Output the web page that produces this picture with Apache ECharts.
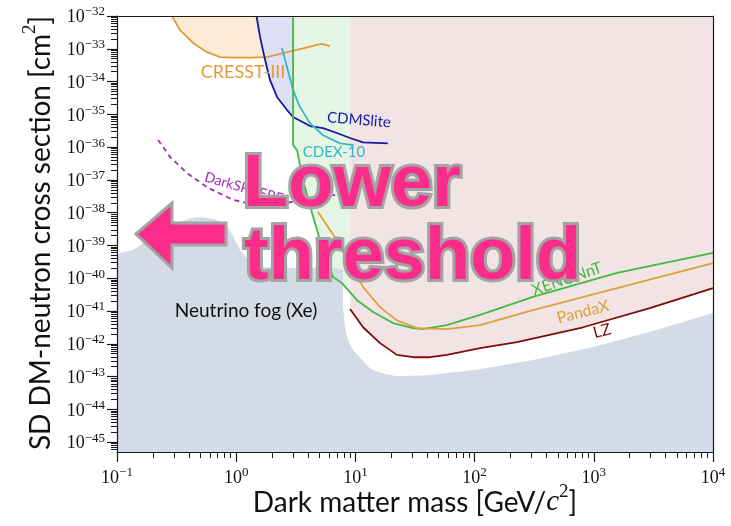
<!DOCTYPE html>
<html>
<head>
<meta charset="utf-8">
<script src="https://cdn.jsdelivr.net/npm/echarts@6/dist/echarts.min.js"></script>
<style>
  html, body { margin: 0; padding: 0; background: #ffffff; }
  #chart { width: 731px; height: 526px; }
</style>
</head>
<body>
<div id="chart"></div>
<script>
// Dark matter mass in GeV/c^2, spin-dependent DM-neutron cross section in cm^2.

// Tick exponents (decades) on both axes
const xDecades = [-1, 0, 1, 2, 3, 4];
const yDecades = [-45, -44, -43, -42, -41, -40, -39, -38, -37, -36, -35, -34, -33, -32];

// Neutrino fog (Xe) upper boundary
const fogMass  = [0.1, 0.106, 0.136, 0.295, 0.469, 0.638, 0.82, 0.94, 1.08, 1.31, 1.75, 3.43, 6.12, 7.87, 7.87, 8.18, 8.67, 9.55, 11.4, 13.2, 16.1, 22.3, 39.8, 101, 309, 977, 3140, 10000];
const fogSigma = [4.5e-40, 5.9e-40, 7.2e-40, 4.8e-39, 7.4e-39, 6.5e-39, 4.5e-39, 1.95e-39, 7.2e-40, 3.1e-40, 2.2e-40, 2.0e-40, 2.3e-40, 1.78e-40, 1.32e-41, 3.2e-42, 1.3e-42, 6.4e-43, 3.2e-43, 1.8e-43, 1.3e-43, 1.03e-43, 1.1e-43, 1.6e-43, 3.2e-43, 7.9e-43, 2.45e-42, 8.7e-42];

// CRESST-III
const cresstMass  = [0.289, 0.338, 0.386, 0.435, 0.569, 0.731, 0.94, 1.31, 1.81, 2.47, 3.43, 4.76, 5.25, 6.12];
const cresstSigma = [1e-32, 3.7e-33, 2.3e-33, 1.5e-33, 7.9e-34, 5.6e-34, 5.4e-34, 5.4e-34, 5.6e-34, 7.4e-34, 9.8e-34, 1.32e-33, 1.41e-33, 1.2e-33];

// CDMSlite
const cdmsMass  = [1.48, 1.585, 1.746, 1.92, 2.2, 2.67, 3.0, 4.16, 5.35, 7.0, 9.0, 11.6, 18.7];
const cdmsSigma = [1e-32, 2.3e-33, 4.6e-34, 1.12e-34, 3.4e-35, 1.35e-35, 8.3e-36, 4.4e-36, 3.8e-36, 2.7e-36, 1.9e-36, 1.4e-36, 1.3e-36];

// CDEX-10
const cdexMass  = [2.42, 2.67, 3.0, 3.43, 4.16, 5.35, 7.43, 9.7];
const cdexSigma = [1.05e-33, 2.75e-34, 5.5e-35, 1.66e-35, 5.4e-36, 2.3e-36, 1.3e-36, 1.15e-36];

// DarkSPHERE (projected)
const dsMass  = [0.221, 0.279, 0.386, 0.569, 0.94, 1.38, 2.47, 5.05, 6.75];
const dsSigma = [1.66e-36, 5.0e-37, 1.62e-37, 6.0e-38, 2.45e-38, 1.82e-38, 1.95e-38, 2.8e-38, 3.5e-38];

// XENONnT
const xenonMass  = [3.0, 3.0, 3.24, 3.63, 4.33, 5.25, 6.49, 7.73, 10.3, 14.1, 20.7, 30.4, 36.9, 58.6, 111, 309, 1567, 10000];
const xenonSigma = [1e-32, 1.15e-36, 8.1e-37, 1.0e-37, 9.8e-39, 8.9e-40, 1.1e-40, 7.1e-41, 2.14e-41, 9.3e-42, 4.3e-42, 3.0e-42, 2.8e-42, 3.7e-42, 7.6e-42, 2.7e-41, 1.45e-40, 5.9e-40];

// PandaX
const pandaMass  = [4.85, 7.0, 8.5, 11.6, 16.1, 22.3, 32.9, 58.6, 111, 309, 1567, 10000];
const pandaSigma = [1.05e-38, 1.45e-39, 3.5e-40, 5.4e-41, 1.32e-41, 5.2e-42, 3.0e-42, 2.8e-42, 3.7e-42, 1.07e-41, 5.0e-41, 2.9e-40];

// LZ
const lzMass  = [9.02, 11.6, 16.1, 22.3, 30.4, 42.3, 58.6, 111, 227, 813, 2950, 10000];
const lzSigma = [1.15e-41, 3.2e-42, 1.05e-42, 4.6e-43, 3.9e-43, 3.9e-43, 4.6e-43, 7.4e-43, 1.12e-42, 3.2e-42, 1.23e-41, 5.0e-41];

// Plot in decades: both axes carry log10 of the physical value
const toLog = (m, s) => m.map((v, i) => [Math.log10(v), Math.log10(s[i])]);

const Y_MIN = -45.3, Y_MAX = -32;
const minorX = [];
for (let n = -1; n < 4; n++) for (let k = 2; k <= 9; k++) minorX.push(n + Math.log10(k));
const minorY = [];
for (let n = -46; n < -32; n++) for (let k = 2; k <= 9; k++) {
  const v = n + Math.log10(k);
  if (v > Y_MIN && v < Y_MAX) minorY.push(v);
}

const SERIF = '"Liberation Serif", "DejaVu Serif", serif';
const SANS = 'Lato, "DejaVu Sans", sans-serif';
const INK = '#111111';
const PINK = '#fc2c8b';
const OUTLINE = '#a3a3a3';

const sup = v => (v < 0 ? '\u2212' + Math.abs(Math.round(v)) : String(Math.round(v)));
const powRich = {
  b: { fontFamily: SERIF, fontSize: 18, lineHeight: 21, verticalAlign: 'bottom', color: INK },
  s: { fontFamily: SERIF, fontSize: 13, lineHeight: 13, verticalAlign: 'top', color: INK }
};
const powLabel = v => '{b|10}{s|' + sup(v) + '}';

const axisLine = { show: true, onZero: false, lineStyle: { color: '#1a1a1a', width: 1.2 } };
const noLine = { show: false, onZero: false };

function fill(data, color, origin, z) {
  return {
    type: 'line', data, symbol: 'none', silent: true, z,
    lineStyle: { opacity: 0 },
    areaStyle: { color, opacity: 1, origin }
  };
}
function curve(data, color, z, dashed) {
  return {
    type: 'line', data, symbol: 'none', silent: true, z,
    lineStyle: { color, width: 1.8, type: dashed ? [5, 4] : 'solid' }
  };
}
function tag(text, x, y, color, size, rotation) {
  return {
    type: 'text', x, y, z: 50, rotation: rotation || 0,
    style: { text, fill: color, font: size + 'px ' + SANS, align: 'center', verticalAlign: 'middle' }
  };
}

const chart = echarts.init(document.getElementById('chart'), null, { renderer: 'canvas' });

chart.setOption({
  animation: false,
  backgroundColor: '#ffffff',
  grid: { left: 117, right: 18, top: 16, bottom: 74, outerBoundsMode: 'none', containLabel: false },
  xAxis: [
    {
      type: 'value', min: -1, max: 4, interval: 1, position: 'bottom', z: 20,
      axisLine, splitLine: { show: false },
      axisTick: { show: true, length: 10, lineStyle: { color: '#1a1a1a', width: 1.2 } },
      axisLabel: { margin: 14, formatter: powLabel, rich: powRich, showMinLabel: true, showMaxLabel: true, hideOverlap: false }
    },
    {
      type: 'value', min: -1, max: 4, position: 'bottom', z: 20,
      axisLine: noLine, splitLine: { show: false }, axisLabel: { show: false },
      axisTick: { show: true, length: 6, customValues: minorX, lineStyle: { color: '#1a1a1a', width: 1 } }
    },
    {
      type: 'value', min: -1, max: 4, position: 'top', z: 20,
      axisLine, splitLine: { show: false }, axisLabel: { show: false }, axisTick: { show: false }
    }
  ],
  yAxis: [
    {
      type: 'value', min: Y_MIN, max: Y_MAX, position: 'left', z: 20,
      axisLine, splitLine: { show: false },
      axisTick: { show: true, length: 10, customValues: yDecades, lineStyle: { color: '#1a1a1a', width: 1.2 } },
      axisLabel: { margin: 12, customValues: yDecades, formatter: powLabel, rich: powRich, hideOverlap: false }
    },
    {
      type: 'value', min: Y_MIN, max: Y_MAX, position: 'left', z: 20,
      axisLine: noLine, splitLine: { show: false }, axisLabel: { show: false },
      axisTick: { show: true, length: 6, customValues: minorY, lineStyle: { color: '#1a1a1a', width: 1 } }
    },
    {
      type: 'value', min: Y_MIN, max: Y_MAX, position: 'right', z: 20,
      axisLine, splitLine: { show: false }, axisLabel: { show: false }, axisTick: { show: false }
    }
  ],
  series: [
    fill(toLog(cresstMass, cresstSigma), '#fdebd6', 'end', 1),
    fill(toLog(cdmsMass, cdmsSigma), '#dfe0f6', 'end', 2),
    fill(toLog(xenonMass, xenonSigma), '#e6f6e4', 'end', 3),
    fill(toLog(lzMass, lzSigma), '#f2e4e4', 'end', 4),
    fill(toLog(fogMass, fogSigma), '#d2dbe6', 'start', 5),
    curve(toLog(cresstMass, cresstSigma), '#e49a38', 10),
    curve(toLog(cdmsMass, cdmsSigma), '#1717a3', 10),
    curve(toLog(cdexMass, cdexSigma), '#35b6c8', 10),
    curve(toLog(dsMass, dsSigma), '#a22cb3', 10, true),
    curve(toLog(xenonMass, xenonSigma), '#42b942', 10),
    curve(toLog(pandaMass, pandaSigma), '#dba13c', 10),
    curve(toLog(lzMass, lzSigma), '#7f0c0c', 10)
  ],
  graphic: [
    tag('CRESST-III', 243, 72, '#e49a38', 18),
    tag('CDMSlite', 359, 120, '#1717a3', 15, -0.08),
    tag('CDEX-10', 334, 152, '#35b6c8', 15),
    tag('DarkSPHERE', 244, 188, '#a22cb3', 14, -0.28),
    tag('XENONnT', 567, 279, '#42b942', 16, 0.33),
    tag('PandaX', 583, 312, '#dba13c', 16, 0.25),
    tag('LZ', 602, 331, '#7f0c0c', 16, 0.26),
    tag('Neutrino fog (Xe)', 246, 311, INK, 19),
    // axis titles
    {
      type: 'text', x: 415, y: 500, z: 50,
      style: {
        text: '{a|Dark matter mass [GeV/}{i|c}{s|2}{a|]}', align: 'center', verticalAlign: 'middle',
        rich: {
          a: { fontFamily: SANS, fontSize: 28, lineHeight: 34, verticalAlign: 'bottom', fill: INK },
          i: { fontFamily: SERIF, fontStyle: 'italic', fontSize: 29, lineHeight: 34, verticalAlign: 'bottom', fill: INK },
          s: { fontFamily: SERIF, fontSize: 19, lineHeight: 20, verticalAlign: 'top', fill: INK }
        }
      }
    },
    {
      type: 'text', x: 38, y: 233, z: 50, rotation: Math.PI / 2,
      style: {
        text: '{a|SD DM-neutron cross section [cm}{s|2}{a|]}', align: 'center', verticalAlign: 'middle',
        rich: {
          a: { fontFamily: SANS, fontSize: 28, lineHeight: 34, verticalAlign: 'bottom', fill: INK },
          s: { fontFamily: SERIF, fontSize: 19, lineHeight: 20, verticalAlign: 'top', fill: INK }
        }
      }
    },
    // left-pointing arrow
    {
      type: 'polygon', z: 60,
      shape: { points: [[136, 234], [172, 203], [172, 223], [226, 223], [226, 245], [172, 245], [172, 268]] },
      style: { fill: PINK, stroke: OUTLINE, lineWidth: 3, lineJoin: 'miter' }
    },
    {
      type: 'text', x: 243, y: 186, z: 60,
      style: { text: 'Lower', fill: PINK, stroke: OUTLINE, lineWidth: 6, strokeFirst: true, font: 'bold 74px "Liberation Sans", Arial, sans-serif', align: 'left', verticalAlign: 'middle' }
    },
    {
      type: 'text', x: 244, y: 259, z: 60,
      style: { text: 'threshold', fill: PINK, stroke: OUTLINE, lineWidth: 6, strokeFirst: true, font: 'bold 74px "Liberation Sans", Arial, sans-serif', align: 'left', verticalAlign: 'middle' }
    }
  ]
});
</script>
</body>
</html>
